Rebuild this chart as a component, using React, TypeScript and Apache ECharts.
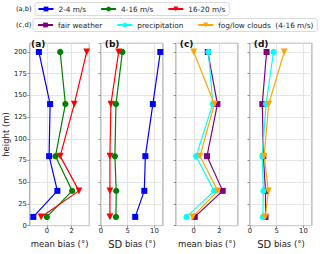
import React, { useEffect, useRef } from "react";
import * as echarts from "echarts";

// ---- data ----
const heights = [10, 40, 80, 140, 200];

// (a) mean bias by wind speed class
const meanBias_2_4 = [-1.1, 0.85, 0.18, 0.26, -0.65];
const meanBias_4_16 = [0.0, 2.05, 0.7, 1.5, 1.08];
const meanBias_16_20 = [-0.47, 2.6, 1.08, 2.22, 3.23];
// (b) SD bias by wind speed class
const sdBias_2_4 = [6.4, 8.1, 8.3, 9.7, 11.1];
const sdBias_4_16 = [2.8, 2.85, 2.6, 2.8, 4.0];
const sdBias_16_20 = [1.67, 1.67, 1.67, 1.85, 3.3];
// (c) mean bias by weather
const meanBias_fair = [0.08, 2.25, 1.03, 1.84, 1.09];
const meanBias_precip = [-0.55, 1.58, 0.18, 1.48, 1.14];
const meanBias_fog = [-0.08, 1.87, 0.49, 1.6, 0.0];
// (d) SD bias by weather
const sdBias_fair = [2.9, 2.9, 2.5, 2.3, 3.1];
const sdBias_precip = [2.4, 2.5, 2.3, 3.0, 4.4];
const sdBias_fog = [2.85, 3.45, 2.65, 3.5, 6.4];

const windNames = ["2-4 m/s", "4-16 m/s", "16-20 m/s"];
const weatherNames = ["fair weather", "precipitation", "fog/low clouds\u00a0\u00a0(4-16 m/s)"];
const panelLabels = ["(a)", "(b)", "(c)", "(d)"];
const legendPrefixes = ["(a,b)", "(c,d)"];

const heightTicks = [0, 25, 50, 75, 100, 125, 150, 175, 200];
const meanBiasTicks = [0, 2];
const sdBiasTicks = [0, 5, 10];

// ---- styles ----
const FONT = "DejaVu Sans";
const GRID_LEFT = [27.3, 101, 176, 250];
const GRID_W = 62;
const GRID_TOP = 43.3;
const GRID_H = 189;
const BORDER = "#7a7a7a";
const GRIDLINE = "#dddddd";

const COLORS = {
  blue: "#0000ff",
  green: "#008000",
  red: "#ff0000",
  purple: "#800080",
  cyan: "#00ffff",
  orange: "#ffa500",
};

const MARK = {
  square: { symbol: "rect", symbolSize: 6, symbolRotate: 0 },
  circle: { symbol: "circle", symbolSize: 6.3, symbolRotate: 0 },
  tri: { symbol: "triangle", symbolSize: 6.8, symbolRotate: 180 },
};

function pairs(vals: number[]) {
  return vals.map((v, i) => [v, heights[i]]);
}

function lineSeries(name: string, vals: number[], panel: number, color: string, mark: any) {
  return {
    type: "line",
    name,
    xAxisIndex: panel,
    yAxisIndex: panel,
    data: pairs(vals),
    symbol: mark.symbol,
    symbolSize: mark.symbolSize,
    symbolRotate: mark.symbolRotate,
    showSymbol: true,
    lineStyle: { color, width: 1.2 },
    itemStyle: { color, borderWidth: 0 },
    emphasis: { disabled: true },
  };
}

function tickFormatter(ticks: number[]) {
  return (v: number) => {
    const hit = ticks.find((t) => Math.abs(t - v) < 1e-6);
    return hit === undefined ? "" : String(hit);
  };
}

export default function App() {
  const ref = useRef<HTMLDivElement>(null);

  useEffect(() => {
    if (!ref.current) return;
    const chart = echarts.init(ref.current, undefined, { renderer: "svg" });

    const grids = GRID_LEFT.map((left) => ({
      left,
      top: GRID_TOP,
      width: GRID_W,
      height: GRID_H,
      show: true,
      borderColor: BORDER,
      borderWidth: 0.9,
      backgroundColor: "transparent",
    }));

    const axisTick = { show: true, length: 2.5, inside: false, lineStyle: { color: BORDER, width: 0.8 } };
    const splitLine = { show: true, lineStyle: { color: GRIDLINE, width: 0.8 } };
    const tickLabel = { fontSize: 6.8, fontFamily: FONT, color: "#222" };

    const isMean = [true, false, true, false];
    const xAxes = GRID_LEFT.map((_, i) => {
      const base: any = {
        type: "value",
        gridIndex: i,
        axisLine: { show: false, onZero: false },
        axisTick,
        splitLine,
        axisLabel: {
          ...tickLabel,
          margin: 1.5,
          showMaxLabel: false,
          formatter: tickFormatter(isMean[i] ? meanBiasTicks : sdBiasTicks),
        },
        nameLocation: "middle",
        nameGap: 6.5,
      };
      if (isMean[i]) {
        Object.assign(base, {
          min: -1.38,
          max: 3.44,
          splitNumber: 2,
          minInterval: 2,
          maxInterval: 2,
          name: "mean bias (°)",
          nameTextStyle: { fontSize: 8.5, fontFamily: FONT, color: "#222", lineHeight: 10, verticalAlign: "top" },
        });
        base.axisLabel.showMinLabel = false;
      } else {
        Object.assign(base, {
          min: 0,
          max: 11.6,
          interval: 5,
          name: "{sd|SD}{bs| bias (°)}",
          nameTextStyle: {
            verticalAlign: "top",
            rich: {
              sd: { fontSize: 10, fontFamily: FONT, color: "#222", lineHeight: 10 },
              bs: { fontSize: 8.5, fontFamily: FONT, color: "#222", lineHeight: 10 },
            },
          },
        });
        base.axisLabel.showMinLabel = true;
      }
      return base;
    });

    const yAxes = GRID_LEFT.map((_, i) => ({
      type: "value",
      gridIndex: i,
      min: 0,
      max: 210,
      interval: 25,
      axisLine: { show: false, onZero: false },
      axisTick,
      splitLine,
      axisLabel: {
        show: i === 0,
        ...tickLabel,
        margin: 3,
        showMaxLabel: false,
        formatter: tickFormatter(heightTicks),
      },
      name: i === 0 ? "height (m)" : "",
      nameLocation: "middle",
      nameGap: 15.5,
      nameTextStyle: { fontSize: 8.5, fontFamily: FONT, color: "#222" },
    }));

    const series = [
      lineSeries(windNames[0], meanBias_2_4, 0, COLORS.blue, MARK.square),
      lineSeries(windNames[1], meanBias_4_16, 0, COLORS.green, MARK.circle),
      lineSeries(windNames[2], meanBias_16_20, 0, COLORS.red, MARK.tri),
      lineSeries(windNames[0], sdBias_2_4, 1, COLORS.blue, MARK.square),
      lineSeries(windNames[1], sdBias_4_16, 1, COLORS.green, MARK.circle),
      lineSeries(windNames[2], sdBias_16_20, 1, COLORS.red, MARK.tri),
      lineSeries(weatherNames[0], meanBias_fair, 2, COLORS.purple, MARK.square),
      lineSeries(weatherNames[1], meanBias_precip, 2, COLORS.cyan, MARK.circle),
      lineSeries(weatherNames[2], meanBias_fog, 2, COLORS.orange, MARK.tri),
      lineSeries(weatherNames[0], sdBias_fair, 3, COLORS.purple, MARK.square),
      lineSeries(weatherNames[1], sdBias_precip, 3, COLORS.cyan, MARK.circle),
      lineSeries(weatherNames[2], sdBias_fog, 3, COLORS.orange, MARK.tri),
    ];

    const legendCommon = {
      orient: "horizontal",
      itemWidth: 15,
      itemHeight: 6,
      itemGap: 14,
      borderColor: "#d0d0d0",
      borderWidth: 0.8,
      borderRadius: 2,
      backgroundColor: "#fff",
      selectedMode: false,
      textStyle: { fontSize: 7.3, fontFamily: FONT, color: "#222", lineHeight: 9 },
    };

    const legends = [
      { ...legendCommon, left: 35, top: 2.5, padding: [2, 4, 2, 2.5], data: windNames },
      { ...legendCommon, left: 33, top: 18.5, padding: [2, 4, 2, 4], data: weatherNames },
    ];

    const graphics: any[] = [
      ...panelLabels.map((t, i) => ({
        type: "text",
        x: GRID_LEFT[i] + 3.8,
        y: GRID_TOP + 1,
        z: 100,
        style: {
          text: t,
          fontSize: 9,
          fontWeight: "bold",
          fontFamily: FONT,
          fill: "#111",
          verticalAlign: "middle",
          align: "left",
        },
      })),
      ...legendPrefixes.map((t, i) => ({
        type: "text",
        x: 16,
        y: i === 0 ? 8.8 : 24.8,
        style: {
          text: t,
          fontSize: 6.7,
          fontFamily: FONT,
          fill: "#222",
          verticalAlign: "middle",
          align: "left",
        },
      })),
    ];

    chart.setOption({
      animation: false,
      grid: grids,
      xAxis: xAxes,
      yAxis: yAxes,
      legend: legends,
      series,
      graphic: graphics,
    });

    return () => chart.dispose();
  }, []);

  return <div ref={ref} style={{ width: 320, height: 254, position: "absolute", left: 0, top: 0, background: "#fff" }} />;
}
